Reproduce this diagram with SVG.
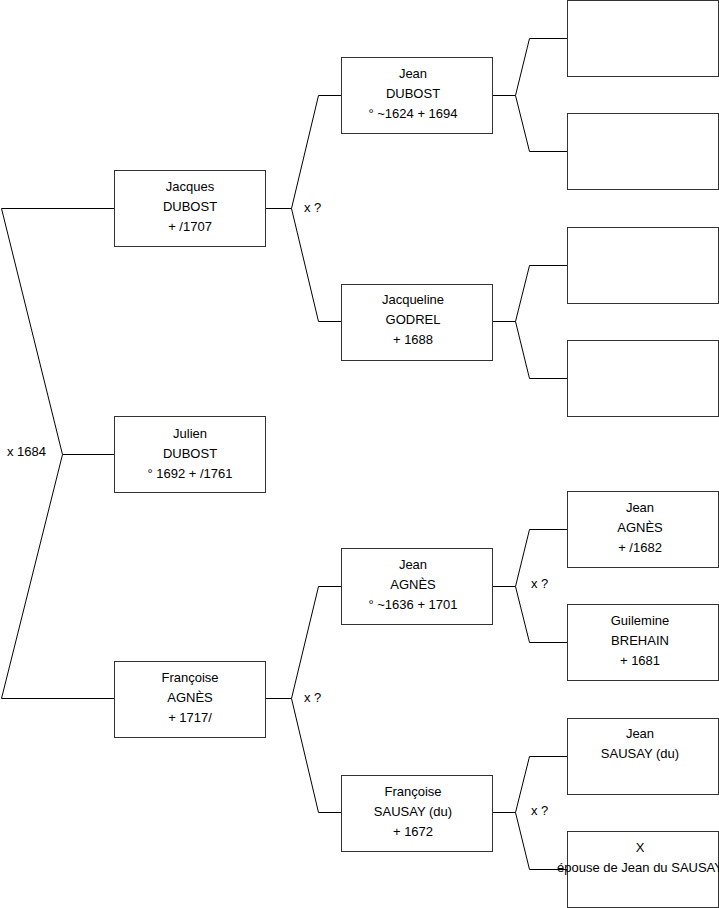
<svg xmlns="http://www.w3.org/2000/svg" width="719" height="908" viewBox="0 0 719 908">
<style>
.box{fill:#fff;stroke:#333;stroke-width:1}
.ln{fill:none;stroke:#000;stroke-width:1}
text{font-family:"Liberation Sans",Arial,sans-serif;font-size:13px;fill:#000;dominant-baseline:central}
.c{text-anchor:middle}
</style>
<rect width="719" height="908" fill="#fff"/>
<g id="connectors">
<path class="ln" d="M114,454.5H62.5L1.5,208.5H114M62.5,454.5L1.5,698.5H114"/>
<path class="ln" d="M265,208.5H291.5L318.5,95.5H341M291.5,208.5L318.5,321.5H341"/>
<path class="ln" d="M265,698.5H291.5L318.5,586.5H341M291.5,698.5L318.5,812.5H341"/>
<path class="ln" d="M492,95.5H515.5L529.5,38.5H567M515.5,95.5L529.5,151.5H567"/>
<path class="ln" d="M492,321.5H515.5L529.5,265.5H567M515.5,321.5L529.5,378.5H567"/>
<path class="ln" d="M492,586.5H515.5L529.5,529.5H567M515.5,586.5L529.5,642.5H567"/>
<path class="ln" d="M492,812.5H515.5L529.5,756.5H567M515.5,812.5L529.5,869.5H567"/>
<text x="7" y="451">x 1684</text>
<text x="304" y="207">x ?</text>
<text x="304" y="697">x ?</text>
<text x="531" y="583">x ?</text>
<text x="531" y="810">x ?</text>
</g>
<g id="jacques"><rect class="box" x="114.5" y="170.5" width="151" height="76"/><text class="c" x="190" y="186">Jacques</text><text class="c" x="190" y="206">DUBOST</text><text class="c" x="190" y="226"> + /1707</text></g>
<g id="julien"><rect class="box" x="114.5" y="416.5" width="151" height="76"/><text class="c" x="190" y="433">Julien</text><text class="c" x="190" y="453">DUBOST</text><text class="c" x="190" y="473">° 1692 + /1761</text></g>
<g id="francoise-agnes"><rect class="box" x="114.5" y="661.5" width="151" height="76"/><text class="c" x="190" y="677">Françoise</text><text class="c" x="190" y="697">AGNÈS</text><text class="c" x="190" y="717"> + 1717/</text></g>
<g id="jean-dubost"><rect class="box" x="341.5" y="57.5" width="151" height="76"/><text class="c" x="413" y="73">Jean</text><text class="c" x="413" y="93">DUBOST</text><text class="c" x="413" y="113">° ~1624 + 1694</text></g>
<g id="jacqueline-godrel"><rect class="box" x="341.5" y="284.5" width="151" height="76"/><text class="c" x="413" y="299">Jacqueline</text><text class="c" x="413" y="319">GODREL</text><text class="c" x="413" y="339"> + 1688</text></g>
<g id="jean-agnes"><rect class="box" x="341.5" y="548.5" width="151" height="76"/><text class="c" x="413" y="564">Jean</text><text class="c" x="413" y="584">AGNÈS</text><text class="c" x="413" y="604">° ~1636 + 1701</text></g>
<g id="francoise-sausay"><rect class="box" x="341.5" y="775.5" width="151" height="76"/><text class="c" x="413" y="791">Françoise</text><text class="c" x="413" y="811">SAUSAY (du)</text><text class="c" x="413" y="831"> + 1672</text></g>
<g id="p8"><rect class="box" x="567.5" y="0.5" width="151" height="76"/></g>
<g id="p9"><rect class="box" x="567.5" y="113.5" width="151" height="76"/></g>
<g id="p10"><rect class="box" x="567.5" y="227.5" width="151" height="76"/></g>
<g id="p11"><rect class="box" x="567.5" y="340.5" width="151" height="76"/></g>
<g id="jean-agnes-sr"><rect class="box" x="567.5" y="491.5" width="151" height="76"/><text class="c" x="640" y="507">Jean</text><text class="c" x="640" y="527">AGNÈS</text><text class="c" x="640" y="547"> + /1682</text></g>
<g id="guilemine"><rect class="box" x="567.5" y="604.5" width="151" height="76"/><text class="c" x="640" y="620">Guilemine</text><text class="c" x="640" y="640">BREHAIN</text><text class="c" x="640" y="660"> + 1681</text></g>
<g id="jean-sausay"><rect class="box" x="567.5" y="718.5" width="151" height="76"/><text class="c" x="640" y="733">Jean</text><text class="c" x="640" y="753">SAUSAY (du)</text></g>
<g id="x-epouse"><rect class="box" x="567.5" y="831.5" width="151" height="76"/><text class="c" x="640" y="847">X</text><text class="c" x="640" y="867">épouse de Jean du SAUSAY</text></g>
</svg>
